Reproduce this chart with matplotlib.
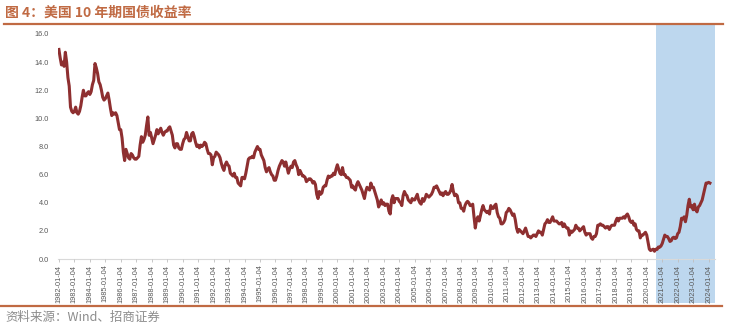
import matplotlib
matplotlib.use("Agg")
import matplotlib.pyplot as plt
import numpy as np
from matplotlib.lines import Line2D
from matplotlib.patches import Rectangle
from matplotlib.transforms import blended_transform_factory

plt.rcParams['font.family'] = ['Noto Sans CJK SC', 'DejaVu Sans']

# US 10-year Treasury yield (%), monthly readings starting January 1982
yields_1980s = [
    14.9, 14.3, 13.8, 14.0, 13.7, 14.7, 14.0, 12.9, 12.3, 10.8, 10.5, 10.4,   # 1982
    10.5, 10.8, 10.4, 10.3, 10.5, 10.9, 11.5, 12.0, 11.6, 11.6, 11.8, 11.9,   # 1983
    11.7, 11.9, 12.4, 12.7, 13.9, 13.6, 13.2, 12.6, 12.4, 12.0, 11.5, 11.3,   # 1984
    11.4, 11.6, 11.8, 11.3, 10.7, 10.2, 10.4, 10.3, 10.4, 10.2, 9.7, 9.2,     # 1985
    9.2, 8.6, 7.6, 7.0, 7.8, 7.5, 7.2, 7.1, 7.5, 7.4, 7.2, 7.1,               # 1986
    7.1, 7.2, 7.3, 8.1, 8.7, 8.3, 8.5, 8.8, 9.5, 10.1, 8.8, 9.0,              # 1987
    8.6, 8.2, 8.5, 8.8, 9.2, 8.9, 9.1, 9.3, 9.0, 8.8, 9.0, 9.1,               # 1988
    9.1, 9.3, 9.4, 9.1, 8.8, 8.1, 7.9, 8.2, 8.2, 7.9, 7.8, 7.8,               # 1989
]
yields_1990s = [
    8.2, 8.5, 8.6, 9.0, 8.7, 8.4, 8.4, 8.9, 9.0, 8.7, 8.3, 8.0,               # 1990
    8.1, 7.9, 8.1, 8.0, 8.1, 8.3, 8.2, 7.8, 7.5, 7.5, 7.4, 6.7,               # 1991
    7.2, 7.3, 7.6, 7.5, 7.4, 7.2, 6.8, 6.5, 6.3, 6.7, 6.9, 6.7,               # 1992
    6.6, 6.1, 6.0, 5.9, 6.1, 5.8, 5.8, 5.4, 5.3, 5.2, 5.8, 5.8,               # 1993
    5.7, 6.1, 6.6, 7.1, 7.2, 7.2, 7.3, 7.2, 7.6, 7.8, 8.0, 7.8,               # 1994
    7.8, 7.4, 7.2, 7.0, 6.5, 6.2, 6.4, 6.5, 6.2, 6.0, 5.9, 5.6,               # 1995
    5.6, 5.9, 6.3, 6.6, 6.8, 7.0, 6.9, 6.6, 6.9, 6.5, 6.1, 6.4,               # 1996
    6.6, 6.5, 6.9, 7.0, 6.7, 6.5, 6.0, 6.3, 6.1, 5.9, 5.9, 5.8,               # 1997
    5.5, 5.6, 5.7, 5.7, 5.6, 5.4, 5.5, 5.3, 4.6, 4.3, 4.8, 4.6,               # 1998
    4.7, 5.1, 5.2, 5.2, 5.6, 5.9, 5.8, 5.9, 5.9, 6.1, 6.0, 6.4,               # 1999
]
yields_2000s = [
    6.7, 6.4, 6.1, 6.0, 6.5, 6.0, 6.0, 5.8, 5.8, 5.7, 5.6, 5.1,               # 2000
    5.2, 5.0, 4.9, 5.3, 5.5, 5.3, 5.1, 4.9, 4.6, 4.3, 4.8, 5.1,               # 2001
    5.0, 4.9, 5.4, 5.1, 5.1, 4.8, 4.5, 4.2, 3.7, 3.9, 4.2, 3.9,               # 2002
    4.0, 3.8, 3.9, 3.9, 3.4, 3.2, 4.2, 4.5, 4.0, 4.3, 4.3, 4.3,               # 2003
    4.1, 4.0, 3.8, 4.5, 4.8, 4.6, 4.5, 4.2, 4.1, 4.0, 4.3, 4.2,               # 2004
    4.2, 4.4, 4.6, 4.2, 4.0, 3.9, 4.3, 4.1, 4.3, 4.6, 4.5, 4.4,               # 2005
    4.5, 4.6, 4.8, 5.1, 5.1, 5.2, 5.0, 4.8, 4.6, 4.7, 4.5, 4.7,               # 2006
    4.8, 4.6, 4.6, 4.7, 4.9, 5.3, 4.8, 4.5, 4.6, 4.5, 4.0, 4.0,               # 2007
    3.6, 3.6, 3.4, 3.8, 4.0, 4.1, 4.0, 3.8, 3.8, 3.9, 3.0, 2.2,               # 2008
    2.8, 3.0, 2.7, 3.1, 3.5, 3.8, 3.5, 3.4, 3.3, 3.4, 3.2, 3.8,               # 2009
]
yields_2010s = [
    3.6, 3.6, 3.8, 3.9, 3.3, 3.0, 2.9, 2.5, 2.5, 2.6, 2.8, 3.3,               # 2010
    3.4, 3.6, 3.5, 3.3, 3.1, 3.2, 2.8, 2.2, 1.9, 2.1, 2.0, 1.9,               # 2011
    1.8, 2.0, 2.2, 1.9, 1.6, 1.6, 1.5, 1.6, 1.7, 1.7, 1.6, 1.8,               # 2012
    2.0, 1.9, 1.9, 1.7, 2.1, 2.5, 2.6, 2.8, 2.6, 2.6, 2.8, 3.0,               # 2013
    2.7, 2.7, 2.7, 2.6, 2.5, 2.5, 2.6, 2.3, 2.5, 2.3, 2.2, 2.2,               # 2014
    1.7, 2.0, 1.9, 2.0, 2.1, 2.4, 2.2, 2.2, 2.0, 2.1, 2.2, 2.3,               # 2015
    1.9, 1.7, 1.8, 1.8, 1.8, 1.5, 1.4, 1.6, 1.6, 1.8, 2.4, 2.4,               # 2016
    2.5, 2.4, 2.4, 2.3, 2.2, 2.3, 2.3, 2.1, 2.3, 2.4, 2.4, 2.4,               # 2017
    2.7, 2.9, 2.7, 2.9, 2.9, 2.9, 3.0, 2.9, 3.1, 3.2, 3.0, 2.7,               # 2018
    2.6, 2.7, 2.4, 2.5, 2.1, 2.0, 2.0, 1.5, 1.7, 1.7, 1.8, 1.9,               # 2019
]
yields_2020s = [
    1.7, 1.2, 0.7, 0.6, 0.65, 0.7, 0.55, 0.7, 0.68, 0.85, 0.84, 0.92,         # 2020
    1.1, 1.4, 1.7, 1.6, 1.6, 1.45, 1.25, 1.3, 1.5, 1.55, 1.45, 1.5,           # 2021
    1.8, 1.9, 2.3, 2.9, 2.85, 3.0, 2.65, 3.1, 3.8, 4.25, 3.7, 3.8,            # 2022
    3.5, 3.9, 3.5, 3.35, 3.7, 3.8, 4.0, 4.2, 4.6, 5.0, 5.4, 5.4,              # 2023
    5.45, 5.4,                                                                # 2024
]

start_year = 1982
tick_years = list(range(1982, 2025))
tick_labels = [f"{y}-01-04" for y in tick_years]
y_ticks = [0, 2, 4, 6, 8, 10, 12, 14, 16]
highlight_start = 2020.58   # shaded period from the 2020 low onward

yields = np.array(yields_1980s + yields_1990s + yields_2000s + yields_2010s + yields_2020s)
dates = start_year + np.arange(len(yields)) / 12.0 + 3 / 365.0

LINE = '#8E2F30'
ACCENT = '#C06A43'
GRAY = '#595959'

fig = plt.figure(figsize=(7.36, 3.32), dpi=100)
ax = fig.add_axes([58 / 736, 1 - 259 / 332, (715 - 58) / 736, (259 - 34) / 332])

ax.set_xlim(1981.95, 2024.42)
ax.set_ylim(0, 16)

# highlighted period band, reaching from the header rule down through the tick labels
trans = blended_transform_factory(ax.transData, fig.transFigure)
band = Rectangle((highlight_start, 1 - 303 / 332), 2024.42 - highlight_start, (303 - 24) / 332,
                 transform=trans, facecolor='#BDD7EE', edgecolor='none',
                 clip_on=False, zorder=0.5)
ax.add_patch(band)

ax.plot(dates, yields, color=LINE, lw=2.2, solid_joinstyle='round', zorder=3)

for side in ('left', 'right', 'top'):
    ax.spines[side].set_visible(False)
ax.spines['bottom'].set_color('#D9D9D9')
ax.spines['bottom'].set_linewidth(0.8)
ax.spines['bottom'].set_zorder(1)

ax.set_yticks(y_ticks)
ax.set_yticklabels([f"{v:.1f}" for v in y_ticks], family='Liberation Sans',
                   fontsize=5.3, color=GRAY)
ax.tick_params(axis='y', length=0, pad=6.5)

ax.set_xticks([y + 3 / 365.0 for y in tick_years])
ax.set_xticklabels(tick_labels, rotation=90, family='Liberation Sans',
                   fontsize=5.3, color=GRAY)
ax.tick_params(axis='x', length=2.5, width=0.6, color='#BFBFBF', pad=1.5)

# header and footer
fig.text(5 / 736, 1 - 13 / 332, "图 4：美国 10 年期国债收益率", fontsize=10,
         fontweight='bold', color=ACCENT, va='center', ha='left')
fig.add_artist(Line2D([4 / 736, 723 / 736], [1 - 24 / 332] * 2, color=ACCENT, lw=1.6))
fig.add_artist(Line2D([0, 722 / 736], [1 - 306 / 332] * 2, color=ACCENT, lw=1.6))
fig.text(5 / 736, 1 - 317 / 332, "资料来源：Wind、招商证券", fontsize=9,
         color='#8C8C8C', va='center', ha='left')

fig.savefig("out.png", dpi=100)
